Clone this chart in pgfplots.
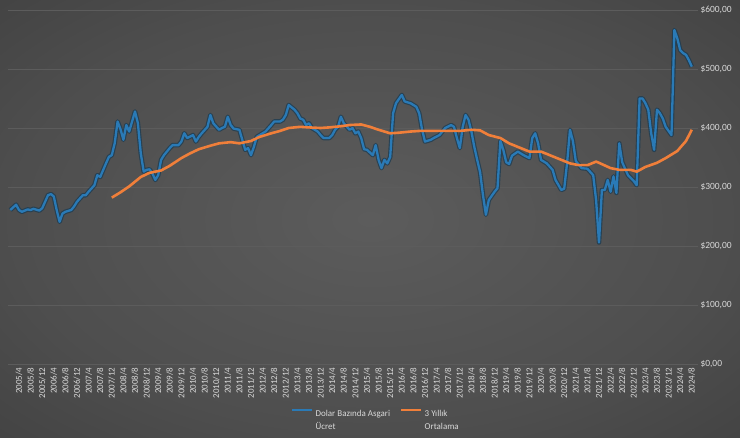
\documentclass[border=0pt]{standalone}
\usepackage{pgfplots}
\usepackage{pgfplotstable}
\pgfplotsset{compat=1.18}
\usepackage{fontspec}
\setmainfont{Carlito}
\definecolor{txt}{HTML}{D9D9D9}
\definecolor{grd}{HTML}{5C5C5C}
\definecolor{blu}{HTML}{2A7AB6}
\definecolor{bluS}{HTML}{173A52}
\definecolor{org}{HTML}{F07F3A}
\definecolor{cA}{HTML}{5C5C5C}
\definecolor{cB}{HTML}{4E4E4E}
\definecolor{cC}{HTML}{373737}
\definecolor{cD}{HTML}{202020}
\pgfdeclareradialshading{bgshade}{\pgfpoint{0bp}{0bp}}{color(0bp)=(cA); color(17bp)=(cB); color(35bp)=(cC); color(50bp)=(cD)}

\pgfplotstableread{
m v
-3 261
-1 270
0 261
1 258
3 262
4 261
5 263
7 260
8 264
10 286
11 288
12 284
13 261
14 241
15 255
16 258
18 261
19 267
20 275
22 286
23 286
24 292
26 303
27 320
28 317
30 340
31 351
32 354
33 374
34 411
35 398
36 380
37 405
38 394
39 411
40 428
41 408
42 357
43 326
44 329
45 330
46 323
47 312
48 320
49 346
50 354
52 366
53 371
55 371
56 377
57 391
58 383
60 388
61 377
62 385
63 391
65 402
66 422
67 408
69 397
70 400
71 402
72 419
73 405
74 399
76 397
77 380
78 363
79 366
80 354
81 368
82 385
84 391
85 394
87 405
88 411
90 411
91 414
92 422
93 439
95 431
96 425
97 416
98 414
99 405
100 408
101 400
103 394
104 388
105 383
107 383
108 388
109 397
110 402
111 419
112 408
114 397
115 400
116 391
117 394
118 383
119 364
120 363
122 354
123 371
124 346
125 332
126 346
127 340
128 351
129 425
130 442
132 456
133 445
135 442
137 436
138 425
139 397
140 377
142 380
143 383
145 388
147 400
149 405
150 402
151 383
152 366
153 402
154 422
155 414
156 394
157 368
158 346
159 325
160 286
161 253
162 278
164 292
165 298
166 378
167 363
168 342
169 339
170 353
172 360
174 354
176 349
177 383
178 391
179 374
180 346
182 340
184 329
185 312
187 295
188 297
189 341
190 397
191 378
192 344
194 332
196 331
198 320
199 278
200 206
201 295
202 295
203 312
204 292
205 318
206 290
207 374
208 342
210 320
212 310
213 303
214 450
215 450
216 442
217 431
218 391
219 363
220 431
221 425
222 416
223 402
225 388
226 566
227 552
228 532
229 527
230 524
231 515
232 504
}\blue

\pgfplotstableread{
m v
32 282
35 291
38 301
42 317
45 324
49 328
52 336
56 349
59 357
62 364
66 370
69 374
73 376
76 374
80 378
83 385
87 391
90 395
93 400
97 402
100 401
104 400
107 401
111 403
114 405
118 406
121 402
124 397
128 391
131 392
135 394
138 395
142 395
145 395
149 395
152 395
156 397
159 396
162 388
166 383
169 374
173 366
176 360
180 360
183 354
187 346
190 340
193 337
196 337
199 343
200 341
204 332
207 329
211 329
213 326
216 334
220 341
223 349
227 361
230 378
232 397
}\orng

\begin{document}
\begin{tikzpicture}
\useasboundingbox (0,0) rectangle (740bp,438bp);
\begin{scope}
\clip (0,0) rectangle (740bp,438bp);
\shade[shading=bgshade] (-153bp,-91bp) rectangle (893bp,529bp);
\end{scope}
\begin{axis}[
  at={(8bp,74bp)}, anchor=south west,
  width=690bp, height=354bp, scale only axis,
  xmin=-3.79, xmax=234.14, ymin=0, ymax=600,
  axis line style={draw=none},
  tick style={draw=none},
  ymajorgrids, major grid style={grd, line width=0.7bp},
  ytick={0,100,200,300,400,500,600},
  yticklabels={{\$0,00},{\$100,00},{\$200,00},{\$300,00},{\$400,00},{\$500,00},{\$600,00}},
  yticklabel pos=right,
  y tick label style={font=\fontsize{9.5}{11}\selectfont, text=txt, xshift=-1bp},
  xtick={0,4,...,232},
  xticklabels={2005/4,2005/8,2005/12,2006/4,2006/8,2006/12,2007/4,2007/8,2007/12,2008/4,2008/8,2008/12,2009/4,2009/8,2009/12,2010/4,2010/8,2010/12,2011/4,2011/8,2011/12,2012/4,2012/8,2012/12,2013/4,2013/8,2013/12,2014/4,2014/8,2014/12,2015/4,2015/8,2015/12,2016/4,2016/8,2016/12,2017/4,2017/8,2017/12,2018/4,2018/8,2018/12,2019/4,2019/8,2019/12,2020/4,2020/8,2020/12,2021/4,2021/8,2021/12,2022/4,2022/8,2022/12,2023/4,2023/8,2023/12,2024/4,2024/8},
  x tick label style={rotate=90, anchor=east, font=\fontsize{9}{10}\selectfont, text=txt},
  legend columns=2,
  legend cell align=left,
  legend style={at={(0.406,-0.112)}, anchor=north west, draw=none, fill=none,
    text=txt, font=\fontsize{9}{12.5}\selectfont,
    /tikz/every even column/.append style={column sep=8bp}},
  legend image code/.code={\draw[#1] (0bp,0.3em) -- (20bp,0.3em);},
]
\addplot[forget plot, mark=none, bluS, line width=4.6bp, opacity=0.7, line join=round] table {\blue};
\addplot[mark=none, blu, line width=2.3bp, line join=round] table {\blue};
\addlegendentry{\begin{tabular}[t]{@{}l@{}}Dolar Bazında Asgari\\Ücret\end{tabular}}
\addplot[mark=none, org, line width=2.6bp, line join=round] table {\orng};
\addlegendentry{\begin{tabular}[t]{@{}l@{}}3 Yıllık\\Ortalama\end{tabular}}
\end{axis}
\end{tikzpicture}
\end{document}
